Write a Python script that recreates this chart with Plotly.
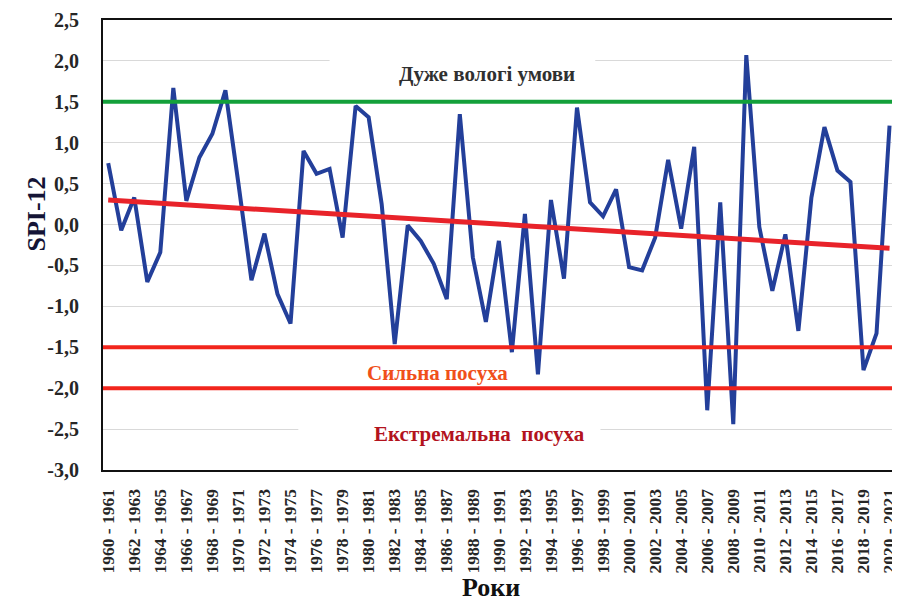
import plotly.graph_objects as go

years_start = list(range(1960, 2021))
categories = [f"{y} - {y+1}" for y in years_start]

spi12 = [0.75, -0.07, 0.33, -0.70, -0.34, 1.67, 0.29, 0.82, 1.11, 1.64,
         0.50, -0.68, -0.11, -0.85, -1.21, 0.90, 0.62, 0.68, -0.16, 1.45,
         1.31, 0.25, -1.46, -0.01, -0.20, -0.48, -0.91, 1.35, -0.40, -1.19,
         -0.20, -1.56, 0.13, -1.83, 0.30, -0.66, 1.43, 0.27, 0.10, 0.43,
         -0.52, -0.56, -0.16, 0.79, -0.05, 0.95, -2.27, 0.27, -2.44, 2.07,
         -0.03, -0.81, -0.12, -1.30, 0.33, 1.19, 0.66, 0.52, -1.78, -1.33,
         1.21]

trend_x = [categories[0], categories[-1]]
trend_y = [0.30, -0.29]

wet_level = 1.5
severe_level = -1.5
extreme_level = -2.0

ytick_vals = [2.5, 2.0, 1.5, 1.0, 0.5, 0.0, -0.5, -1.0, -1.5, -2.0, -2.5, -3.0]
ytick_text = ["2,5", "2,0", "1,5", "1,0", "0,5", "0,0", "-0,5", "-1,0", "-1,5", "-2,0", "-2,5", "-3,0"]
xtick_vals = categories[::2]

label_wet = "Дуже вологі умови"
label_severe = "Сильна посуха"
label_extreme = "Екстремальна  посуха"
x_title = "Роки"
y_title = "SPI-12"

SERIF = "Liberation Serif, Times New Roman, serif"

# page body has an 8px margin, so the figure is 8px smaller and margins compensated
OFF = 8
W, H = 900 - OFF, 615 - OFF
ml, mr, mt, mb = 103 - OFF, 2, 20 - OFF, 145
pw, ph = W - ml - mr, H - mt - mb


def px_x(px):
    return (px - 103) / pw


def px_y(py):
    return 1 - (py - 20) / ph


fig = go.Figure()

fig.add_trace(go.Scatter(x=categories, y=spi12, mode="lines",
                         line=dict(color="#233f9a", width=4), showlegend=False))

fig.add_trace(go.Scatter(x=trend_x, y=trend_y, mode="lines",
                         line=dict(color="#e8232a", width=5), showlegend=False))

# threshold lines across the full plot width (drawn on top of the series)
for lvl, col in [(wet_level, "#13a03a"), (severe_level, "#f2251c"), (extreme_level, "#f2251c")]:
    fig.add_shape(type="line", xref="paper", yref="y", x0=0, x1=1, y0=lvl, y1=lvl,
                  line=dict(color=col, width=4), layer="above")

# white masks behind labels (hide gridlines)
fig.add_shape(type="rect", xref="x", yref="y", x0=17.0, x1=37.4, y0=1.72, y1=2.25,
              fillcolor="white", line=dict(width=0), layer="between")
fig.add_shape(type="rect", xref="x", yref="y", x0=14.6, x1=37.8, y0=-2.7, y1=-2.35,
              fillcolor="white", line=dict(width=0), layer="between")

fig.add_annotation(x=29.1, y=1.84, xref="x", yref="y", text=label_wet, showarrow=False,
                   font=dict(family=SERIF, size=21, color="#303030", weight="bold"))
fig.add_annotation(x=25.3, y=-1.81, xref="x", yref="y", text=label_severe, showarrow=False,
                   font=dict(family=SERIF, size=21, color="#f0501a", weight="bold"))
fig.add_annotation(x=28.5, y=-2.56, xref="x", yref="y", text=label_extreme, showarrow=False,
                   font=dict(family=SERIF, size=21, color="#b3131d", weight="bold"))

fig.add_annotation(x=px_x(491), y=px_y(604), xref="paper", yref="paper",
                   text=x_title, showarrow=False,
                   font=dict(family=SERIF, size=26, color="#111111", weight="bold"))
fig.add_annotation(x=px_x(19), y=px_y(214), xref="paper", yref="paper",
                   text=y_title, showarrow=False, textangle=-90,
                   font=dict(family=SERIF, size=26, color="#141436", weight="bold"))

fig.update_layout(
    width=W, height=H,
    margin=dict(l=ml, r=mr, t=mt, b=mb, autoexpand=False),
    paper_bgcolor="white", plot_bgcolor="white",
    showlegend=False,
    xaxis=dict(type="category", categoryorder="array", categoryarray=categories,
               range=[-0.4, 60.65], tickmode="array", tickvals=xtick_vals,
               tickangle=-90, showgrid=False, ticks="", ticklabelstandoff=10, automargin=False,
               tickfont=dict(family=SERIF, size=17.5, color="#262626", weight="bold"),
               showline=True, linecolor="#111111", linewidth=2, mirror=True),
    yaxis=dict(range=[-3.0, 2.5], tickmode="array", tickvals=ytick_vals, ticktext=ytick_text,
               showgrid=True, gridcolor="#d9d9d9", gridwidth=1, zeroline=False, ticks="",
               ticklabelstandoff=18, automargin=False,
               tickfont=dict(family=SERIF, size=20, color="#262626", weight="bold"),
               showline=True, linecolor="#111111", linewidth=2, mirror=True),
)

fig.write_html("out.html")
